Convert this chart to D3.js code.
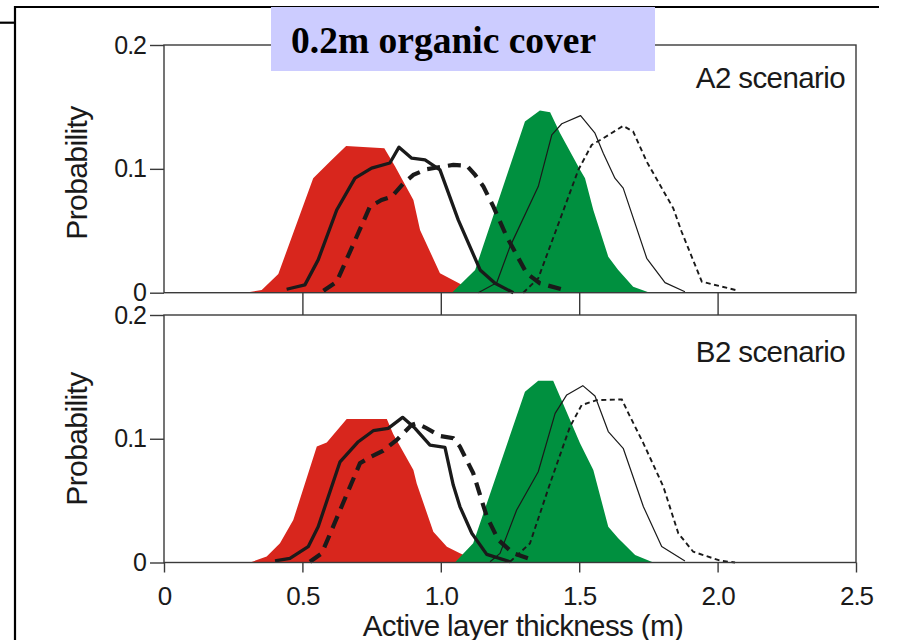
<!DOCTYPE html>
<html>
<head>
<meta charset="utf-8">
<script src="https://cdn.jsdelivr.net/npm/d3@7"></script>
<style>
  html, body { margin: 0; padding: 0; background: #fff; }
  svg { display: block; }
  text { fill: #1a1a1a; }
</style>
</head>
<body>
<svg id="chart" width="897" height="640"></svg>
<script>
// ---------------- data ----------------
const titleText = "0.2m organic cover";
const panelLabels = ["A2 scenario", "B2 scenario"];
const xAxisTitle = "Active layer thickness (m)";
const yAxisTitle = "Probability";
const xTickValues = [0, 0.5, 1.0, 1.5, 2.0, 2.5];
const xTickLabels = ["0", "0.5", "1.0", "1.5", "2.0", "2.5"];
const yTickValues = [0, 0.1, 0.2];
const yTickLabels = ["0", "0.1", "0.2"];

// A2 scenario (top panel): [thickness (m), probability]
const a2RedArea = [[0.293,0],[0.353,0.0022],[0.413,0.0151],[0.539,0.0924],[0.600,0.106],[0.658,0.1185],[0.796,0.1167],[0.835,0.1018],[0.901,0.0749],[0.925,0.0507],[0.997,0.0157],[1.069,0.0072],[1.123,0.0008],[1.13,0]];
const a2GreenArea = [[1.040,0],[1.124,0.0184],[1.304,0.1382],[1.358,0.1471],[1.395,0.1458],[1.431,0.1288],[1.503,0.0992],[1.521,0.0925],[1.551,0.0668],[1.605,0.0291],[1.641,0.0183],[1.695,0.0048],[1.755,0]];
const a2ThickSolid = [[0.443,0.0028],[0.509,0.0063],[0.557,0.0265],[0.624,0.0668],[0.690,0.0925],[0.750,0.1006],[0.816,0.1047],[0.849,0.1175],[0.895,0.1086],[0.943,0.1072],[0.997,0.0992],[1.063,0.0588],[1.142,0.0184],[1.196,0.0076],[1.262,0]];
const a2ThickDashed = [[0.576,0.0016],[0.624,0.0089],[0.744,0.0695],[0.786,0.0749],[0.823,0.0776],[0.865,0.0884],[0.901,0.0951],[0.949,0.0997],[1.045,0.1032],[1.094,0.1026],[1.124,0.0951],[1.154,0.0857],[1.190,0.0695],[1.238,0.0453],[1.310,0.0157],[1.358,0.0076],[1.455,0.0016]];
const a2ThinSolid = [[1.135,0],[1.202,0.0081],[1.250,0.0372],[1.352,0.0857],[1.401,0.1275],[1.437,0.1364],[1.505,0.1430],[1.557,0.1288],[1.587,0.1126],[1.629,0.0925],[1.659,0.0844],[1.744,0.0278],[1.810,0.0081],[1.882,0.0008]];
const a2ThinDashed = [[1.298,0],[1.352,0.0116],[1.497,0.0992],[1.545,0.1193],[1.587,0.1247],[1.659,0.1347],[1.695,0.1301],[1.744,0.1058],[1.840,0.0681],[1.870,0.0492],[1.943,0.0089],[2.075,0.0016]];

// B2 scenario (bottom panel)
const b2RedArea = [[0.311,0],[0.371,0.0048],[0.419,0.0156],[0.467,0.0343],[0.552,0.0937],[0.588,0.0970],[0.660,0.1160],[0.805,0.1160],[0.828,0.1039],[0.901,0.0747],[0.913,0.0638],[0.973,0.0249],[1.022,0.0127],[1.069,0.0075],[1.142,0]];
const b2GreenArea = [[1.051,0],[1.117,0.0155],[1.304,0.1380],[1.352,0.1469],[1.406,0.1469],[1.431,0.1340],[1.503,0.0963],[1.551,0.0747],[1.605,0.0289],[1.641,0.0196],[1.702,0.0061],[1.768,0]];
const b2ThickSolid = [[0.401,0.0014],[0.455,0.0034],[0.521,0.0128],[0.557,0.0289],[0.636,0.0814],[0.702,0.0976],[0.756,0.1065],[0.810,0.1084],[0.862,0.1173],[0.907,0.1084],[0.961,0.0949],[1.015,0.0931],[1.045,0.0626],[1.069,0.0452],[1.112,0.0236],[1.166,0.0066],[1.250,0.0006]];
const b2ThickDashed = [[0.527,0.0006],[0.570,0.0074],[0.708,0.0802],[0.744,0.0851],[0.792,0.0904],[0.841,0.0991],[0.895,0.1112],[0.913,0.1125],[0.949,0.1085],[0.997,0.1023],[1.045,0.1004],[1.069,0.0937],[1.117,0.0723],[1.166,0.0372],[1.208,0.0182],[1.262,0.0074],[1.334,0.0020]];
const b2ThinSolid = [[1.178,0.0006],[1.214,0.0074],[1.274,0.0424],[1.352,0.0733],[1.413,0.1205],[1.455,0.1354],[1.513,0.1429],[1.557,0.1345],[1.605,0.1058],[1.659,0.0923],[1.732,0.0451],[1.798,0.0129],[1.882,0.0012]];
const b2ThinDashed = [[1.250,0.0006],[1.322,0.0154],[1.395,0.0641],[1.467,0.1099],[1.509,0.1272],[1.563,0.1312],[1.654,0.1318],[1.678,0.1205],[1.732,0.0963],[1.804,0.0613],[1.858,0.0236],[1.912,0.0087],[2.009,0.0015],[2.063,0]];

// ---------------- drawing ----------------
const svg = d3.select("#chart");
const RED = "#d8261d", GREEN = "#00903f", INK = "#1a1a1a", FRAME = "#3a3a3a";
const SANS = "'Liberation Sans', Arial, sans-serif";
const SERIF = "'Liberation Serif', 'Times New Roman', serif";

const x = d3.scaleLinear().domain([0, 2.5]).range([164, 856]);
const yTop = d3.scaleLinear().domain([0, 0.2]).range([292.7, 45]);
const yBot = d3.scaleLinear().domain([0, 0.2]).range([562.5, 315]);

// outer page frame lines
svg.append("line").attr("x1", 15).attr("x2", 15).attr("y1", 6).attr("y2", 640)
  .attr("stroke", "#000").attr("stroke-width", 2.2);
svg.append("line").attr("x1", 14).attr("x2", 879).attr("y1", 7).attr("y2", 7)
  .attr("stroke", "#000").attr("stroke-width", 2.2);
svg.append("line").attr("x1", 0).attr("x2", 15).attr("y1", 22.7).attr("y2", 22.7)
  .attr("stroke", "#000").attr("stroke-width", 2.2);

const panels = [
  { y: yTop, label: panelLabels[0], labelY: 88, red: a2RedArea, green: a2GreenArea,
    ts: a2ThickSolid, td: a2ThickDashed, ns: a2ThinSolid, nd: a2ThinDashed, bottom: false, yTitle: 173 },
  { y: yBot, label: panelLabels[1], labelY: 361.5, red: b2RedArea, green: b2GreenArea,
    ts: b2ThickSolid, td: b2ThickDashed, ns: b2ThinSolid, nd: b2ThinDashed, bottom: true, yTitle: 439 }
];

panels.forEach(p => {
  const g = svg.append("g");
  const area = d3.area().x(d => x(d[0])).y0(p.y(0)).y1(d => p.y(d[1]));
  const line = d3.line().x(d => x(d[0])).y(d => p.y(d[1]));

  g.append("path").datum(p.red).attr("d", area).attr("fill", RED);
  g.append("path").datum(p.green).attr("d", area).attr("fill", GREEN);

  g.append("path").datum(p.ns).attr("d", line).attr("fill", "none")
    .attr("stroke", INK).attr("stroke-width", 1.2).attr("stroke-linejoin", "round");
  g.append("path").datum(p.nd).attr("d", line).attr("fill", "none")
    .attr("stroke", INK).attr("stroke-width", 1.9).attr("stroke-dasharray", "5,3.5");
  g.append("path").datum(p.ts).attr("d", line).attr("fill", "none")
    .attr("stroke", INK).attr("stroke-width", 3.3).attr("stroke-linejoin", "round");
  g.append("path").datum(p.td).attr("d", line).attr("fill", "none")
    .attr("stroke", INK).attr("stroke-width", 4.2).attr("stroke-dasharray", "13,8");

  // frame
  g.append("rect").attr("x", x(0)).attr("y", p.y(0.2))
    .attr("width", x(2.5) - x(0)).attr("height", p.y(0) - p.y(0.2))
    .attr("fill", "none").attr("stroke", FRAME).attr("stroke-width", 1.4);

  // y axis
  const yAxis = d3.axisLeft(p.y).tickValues(yTickValues)
    .tickFormat((d, i) => yTickLabels[i]).tickSize(14).tickSizeOuter(0).tickPadding(4);
  const ya = g.append("g").attr("transform", `translate(${x(0)},0)`).call(yAxis);
  ya.select(".domain").remove();
  ya.selectAll("line").attr("stroke", FRAME).attr("stroke-width", 1.4);
  ya.selectAll("text").style("font-size", "25px").style("fill", INK)
    .style("font-family", SANS).style("letter-spacing", "-1px");

  // x axis
  if (!p.bottom) {
    const xAxis = d3.axisBottom(x).tickValues(xTickValues.slice(1, 5))
      .tickFormat("").tickSize(yBot(0.2) - yTop(0)).tickSizeOuter(0);
    const xa = g.append("g").attr("transform", `translate(0,${p.y(0)})`).call(xAxis);
    xa.select(".domain").remove();
    xa.selectAll("line").attr("stroke", FRAME).attr("stroke-width", 1.4);
  } else {
    const xAxis = d3.axisBottom(x).tickValues(xTickValues)
      .tickFormat((d, i) => xTickLabels[i]).tickSize(10).tickSizeOuter(0).tickPadding(14);
    const xa = g.append("g").attr("transform", `translate(0,${p.y(0)})`).call(xAxis);
    xa.select(".domain").remove();
    xa.selectAll("line").attr("stroke", FRAME).attr("stroke-width", 1.4);
    xa.selectAll("text").style("font-size", "26px").style("fill", INK)
      .style("font-family", SANS).style("letter-spacing", "-1px");
  }

  // panel label
  g.append("text").attr("x", 845).attr("y", p.labelY).attr("text-anchor", "end")
    .style("font-family", SANS).style("font-size", "29.5px").style("letter-spacing", "-0.6px")
    .text(p.label);

  // y title
  g.append("text").attr("transform", `translate(87,${p.yTitle}) rotate(-90)`)
    .attr("text-anchor", "middle")
    .style("font-family", SANS).style("font-size", "30px").style("letter-spacing", "-0.6px")
    .text(yAxisTitle);
});

// x-axis title
svg.append("text").attr("x", 523).attr("y", 636).attr("text-anchor", "middle")
  .style("font-family", SANS).style("font-size", "29.5px").style("letter-spacing", "-0.6px")
  .text(xAxisTitle);

// title box
svg.append("rect").attr("x", 271).attr("y", 7).attr("width", 384).attr("height", 64)
  .attr("fill", "#ccccff");
svg.append("text").attr("x", 291).attr("y", 53)
  .style("font-family", SERIF).style("font-weight", "bold").style("font-size", "37.5px")
  .style("fill", "#000")
  .text(titleText);
</script>
</body>
</html>
